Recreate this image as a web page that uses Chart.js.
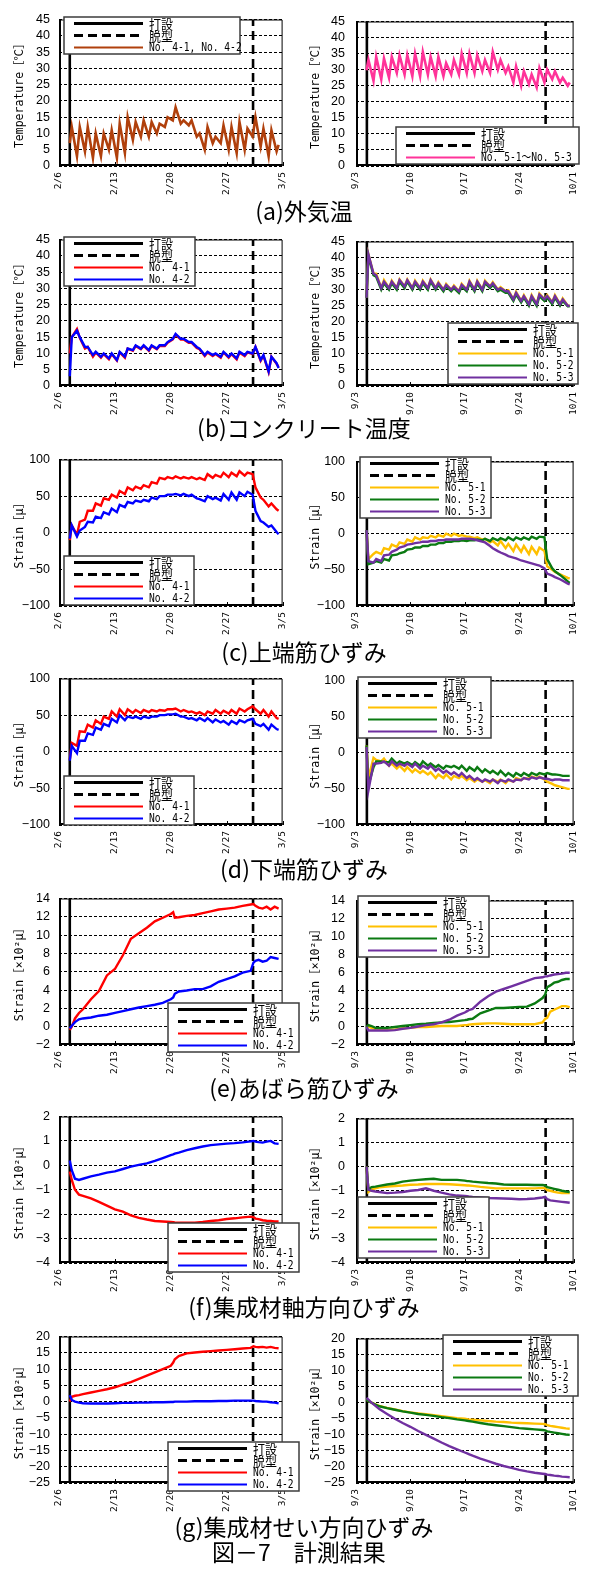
<!DOCTYPE html>
<html>
<head>
<meta charset="utf-8">
<script src="https://cdn.jsdelivr.net/npm/chart.js@4.4.1/dist/chart.umd.min.js"></script>
<style>
  body { margin: 0; background: #fff; width: 591px; height: 1569px; position: relative; overflow: hidden; }
  canvas { position: absolute; }
  .cap { position: absolute; left: 0; width: 608px; text-align: center; font: 23px "Noto Sans CJK JP", sans-serif; line-height: 23px; color: #000; white-space: nowrap; }
</style>
</head>
<body>
<script>
// ---- time grids (days after 2/6 or 9/3) ----
const tHalfDay = [1.35,1.6,2.25,2.6,3.25,3.6,4.25,4.6,5.25,5.6,6.25,6.6,7.25,7.6,8.25,8.6,9.25,9.6,10.25,10.6,
  11.25,11.6,12.25,12.6,13.25,13.6,14.25,14.6,15.25,15.6,16.25,16.6,17.25,17.6,18.25,18.6,19.25,19.6,20.25,20.6,
  21.25,21.6,22.25,22.6,23.25,23.6,24.25,24.6,25.25,25.6,26.25,26.6,27.25,27.5];
const tDaily = [1.35,1.6,2,2.5,3,4,5,6,7,8,9,10,11,12,13,14,14.3,14.5,15,16,17,18,19,20,21,22,23,24,24.35,24.6,25,25.5,26,26.5,27,27.5];

const ticksFeb = ['2/6', '2/13', '2/20', '2/27', '3/5'];
const ticksSep = ['9/3', '9/10', '9/17', '9/24', '10/1'];

const castFeb = 1.35, demoldFeb = 24.3;
const castSep = 1.4, demoldSep = 24.4;

// (a) outdoor temperature
const airFeb = [7,12, 3,12, 4.5,12, 2.5,10, 3,10, 5,11, 2.5,13, 4,15, 8,13.5, 9,14, 9,13.5, 10,13, 12,15, 14,18, 13,14,
  12.5,14, 9,10, 5,12, 7,9, 7,12.5, 5,12, 4,13.5, 5,11.5, 9,15, 6,11.5, 3,11, 4.5,6.5];
const airSep = [29.8,33, 26.5,34, 27,33.5, 27.5,34, 29,34.5, 28.5,34.5, 28,35, 28,35.5, 28.5,34, 28,34, 28,32, 28.5,33,
  28.5,35, 29,35, 29,34.5, 29.5,33, 29,35.5, 30,33, 29,31, 26,31, 25,29.5, 25.5,28.5, 24.5,30.5, 26,30, 27,29.5, 26,27.5, 25,26];

// (b) concrete temperature
const concFeb41 = [10,15, 17.5,14.8, 11.5,12, 9,10.3, 8.7,9.8, 8.2,9.8, 7.8,10.3, 8.7,11.5, 10.8,12.3, 11.3,12.3, 10.8,12.3,
  11.3,12.3, 12.3,13.3, 14.3,15.8, 14.3,14.3, 13.3,13.3, 11.7,11.3, 9.2,10.3, 9.2,9.8, 8.7,10.3, 8.7,9.8, 8.2,10.3, 9.2,10.3,
  9.8,12, 7.7,9.3, 4.3,9, 6.8,5.8];
const concFeb42 = [3,15, 17,15, 12,12, 9.5,10.5, 9,10, 8.5,10, 8,10.5, 9,11.5, 11,12.5, 11.5,12.5, 11,12.5, 11.5,12.5,
  12.5,13.5, 14.5,16, 14.5,14.5, 13.5,13.5, 12,11.5, 9.5,10.5, 9.5,10, 9,10.5, 9,10, 8.5,10.5, 9.5,10.5, 10,12, 8,9.5, 4.5,9, 7,5.5];
const concSep51 = [27.5,41, 35,35, 30.5,33, 30.5,32.8, 30.5,33.2, 31,33.2, 30.5,32.8, 30.5,32.8, 30.5,33.2, 30.5,32.3, 30,31.8,
  30,31.3, 29.5,31.8, 30,32.8, 30,32.8, 30,32.8, 31,32.3, 30,30.8, 29.5,29.8, 27,29.3, 26.5,28.3, 25.5,28.3, 25.5,28.8, 27,28.3,
  26,28.3, 25.5,27.3, 25,25];
const concSep52 = [27.5,40.5, 34.5,34, 30,32, 30,32, 30,32.5, 30.5,32.5, 30,32, 30,32, 30,32.5, 30,31.5, 29.5,31, 29.5,30.5,
  29,31, 29.5,32, 29.5,32, 29.5,32, 30.5,31.5, 29.5,30, 29,29, 26.5,28.5, 26,27.5, 25,27.5, 25,28, 26.5,27.5, 25.5,27.5,
  25,26.5, 24.8,24.8];
const concSep53 = [27.5,41, 35,34.5, 30.5,32.5, 30.5,32.5, 30.5,33, 31,33, 30.5,32.5, 30.5,32.5, 30.5,33, 30.5,32, 30,31.5,
  30,31, 29.5,31.5, 30,32.5, 30,32.5, 30,32.5, 31,32, 30,30.5, 29.5,29.5, 27,29, 26.5,28, 25.5,28, 25.5,28.5, 27,28, 26,28,
  25.5,27, 25,25];

// (c) top rebar strain
const topFeb41 = [-10,10, -3,15, 18,30, 30,40, 37,47, 45,52, 48,57, 53,62, 58,63, 60,65, 62,69, 67,75, 73,76, 74,77, 74,76,
  74,76, 73,75, 72,80, 75,79, 76,82, 76,82, 77,84, 78,82, 80,62, 48,45, 36,40, 32,30];
const topFeb42 = [-8,10, -5,3, 8,15, 14,22, 20,28, 25,33, 28,38, 35,42, 40,44, 42,45, 43,48, 46,50, 50,52, 52,53, 51,53,
  50,52, 47,46, 43,50, 46,48, 44,53, 45,55, 45,55, 50,56, 52,30, 16,14, 8,10, 1,-2];
const topSep51 = [5,-35, -28,-25, -28,-20, -22,-15, -18,-12, -14,-8, -11,-5, -8,-5, -6,-3, -5,-2, -4,0, -3,0, -3,-2, -4,-4,
  -6,-5, -8,-7, -12,-10, -16,-10, -20,-14, -24,-15, -25,-17, -28,-18, -28,-19, -24,-45, -50,-53, -56,-58, -61,-62];
const topSep52 = [5,-42, -40,-38, -40,-35, -37,-30, -29,-27, -25,-22, -21,-19, -19,-17, -17,-15, -15,-13, -13,-11, -11,-10,
  -10,-9, -10,-9, -9,-8, -9,-7, -10,-6, -9,-6, -9,-5, -9,-5, -8,-5, -8,-4, -7,-4, -5,-35, -48,-52, -57,-60, -66,-68];
const topSep53 = [5,-38, -40,-35, -38,-30, -29,-25, -22,-19, -17,-15, -14,-13, -12,-11, -11,-10, -10,-9, -9,-8, -8,-8, -8,-7,
  -7,-7, -8,-9, -11,-12, -17,-20, -24,-26, -29,-31, -33,-34, -37,-38, -40,-41, -43,-44, -48,-55, -58,-60, -63,-65, -69,-70];

// (d) bottom rebar strain
const botFeb41 = [-11,12, 8,28, 27,37, 33,43, 38,48, 45,55, 48,58, 50,58, 53,57, 53,57, 54,57, 55,57, 56,58, 58,59, 55,57,
  54,55, 52,54, 50,55, 52,57, 52,56, 52,57, 52,59, 55,58, 62,58, 52,57, 48,55, 46,45];
const botFeb42 = [-12,8, -2,15, 15,25, 23,33, 30,38, 35,45, 40,50, 43,48, 46,48, 45,48, 46,48, 48,50, 50,51, 51,52, 48,48,
  45,46, 43,46, 42,46, 40,44, 40,42, 37,42, 38,43, 40,43, 45,38, 35,38, 30,37, 31,30];
const botSep51 = [10,-35, -7,-10, -12,-8, -18,-15, -22,-18, -25,-20, -27,-23, -28,-25, -30,-27, -35,-30, -35,-30, -37,-32,
  -35,-32, -38,-35, -40,-37, -40,-38, -42,-37, -40,-37, -42,-38, -40,-35, -38,-35, -36,-33, -35,-33, -37,-40, -43,-45, -47,-48, -50,-50];
const botSep52 = [10,-45, -20,-12, -12,-13, -13,-8, -15,-12, -15,-13, -17,-13, -18,-12, -18,-15, -20,-17, -22,-18, -20,-18,
  -22,-18, -25,-20, -25,-20, -27,-23, -28,-25, -30,-25, -32,-28, -33,-28, -32,-28, -32,-28, -31,-28, -30,-28, -30,-30, -31,-32, -32,-32];
const botSep53 = [8,-52, -15,-15, -14,-12, -18,-12, -18,-15, -18,-15, -20,-15, -22,-18, -22,-18, -25,-22, -28,-25, -30,-27,
  -32,-28, -35,-32, -38,-35, -40,-37, -40,-37, -42,-38, -40,-37, -40,-37, -38,-35, -37,-34, -36,-34, -36,-36, -38,-37, -37,-38, -38,-38];

// (e) stirrup strain (x10^2 micro)
const stirFeb41 = [-0.35,0,0.9,1.5,1.9,3.0,3.9,5.6,6.3,7.8,9.6,10.2,10.8,11.5,11.9,12.3,12.5,11.9,11.95,12.1,12.2,12.4,12.6,12.8,
  12.9,13.0,13.2,13.35,13.4,13.2,13.0,12.9,13.1,12.8,13.1,12.9];
const stirFeb42 = [-0.2,0.1,0.5,0.8,0.9,1.0,1.2,1.3,1.5,1.7,1.9,2.1,2.25,2.4,2.6,3.0,3.2,3.6,3.85,3.95,4.1,4.1,4.4,4.9,
  5.2,5.5,5.9,6.1,7.0,7.2,7.3,7.1,7.2,7.6,7.5,7.4];
const stirSep51 = [0,0,-0.1,-0.2,-0.2,-0.3,-0.3,-0.15,-0.1,0,0,0.05,0.1,0.1,0.1,0.2,0.2,0.25,0.3,0.35,0.4,0.4,0.35,0.3,
  0.3,0.3,0.3,0.5,0.9,1.0,1.7,1.9,2.1,2.3,2.3,2.2];
const stirSep52 = [0,0.2,0.1,-0.1,-0.1,-0.1,0,0.1,0.2,0.3,0.35,0.45,0.5,0.55,0.65,0.75,0.8,0.85,0.9,1.5,1.8,2.1,2.1,2.15,
  2.2,2.25,2.6,3.2,3.6,4.4,4.6,4.9,5.0,5.2,5.3,5.3];
const stirSep53 = [0,-0.4,-0.4,-0.4,-0.4,-0.4,-0.35,-0.2,-0.1,0.05,0.2,0.3,0.5,0.8,1.25,1.6,1.75,1.85,2.0,2.8,3.4,3.9,4.2,4.5,
  4.8,5.1,5.4,5.5,5.6,5.6,5.7,5.8,5.85,5.9,6.0,6.0];

// (f) glulam axial strain
const axialFeb41 = [-0.25,-0.6,-1.0,-1.2,-1.25,-1.35,-1.5,-1.65,-1.8,-1.9,-2.05,-2.15,-2.22,-2.28,-2.3,-2.32,-2.33,-2.34,-2.35,
  -2.35,-2.35,-2.32,-2.28,-2.25,-2.2,-2.17,-2.13,-2.1,-2.12,-2.18,-2.2,-2.25,-2.27,-2.28,-2.3,-2.3];
const axialFeb42 = [0.2,-0.2,-0.55,-0.6,-0.55,-0.45,-0.38,-0.3,-0.25,-0.15,-0.05,0.02,0.08,0.18,0.3,0.42,0.45,0.48,0.52,0.62,
  0.7,0.77,0.83,0.86,0.89,0.91,0.94,0.98,1.0,0.97,0.95,0.93,0.97,1.0,0.9,0.88];
const axialSep51 = [0,-1.05,-0.95,-0.9,-0.86,-0.83,-0.8,-0.78,-0.75,-0.74,-0.72,-0.72,-0.72,-0.73,-0.75,-0.77,-0.78,-0.78,-0.8,
  -0.84,-0.87,-0.9,-0.9,-0.9,-0.9,-0.9,-0.9,-0.88,-0.9,-0.97,-1.0,-1.05,-1.08,-1.1,-1.1,-1.1];
const axialSep52 = [0,-0.95,-0.85,-0.83,-0.8,-0.74,-0.7,-0.62,-0.58,-0.55,-0.52,-0.5,-0.55,-0.55,-0.55,-0.58,-0.6,-0.6,-0.62,
  -0.65,-0.68,-0.7,-0.74,-0.75,-0.75,-0.75,-0.76,-0.76,-0.78,-0.85,-0.88,-0.92,-0.96,-1.0,-1.03,-1.05];
const axialSep53 = [0,-0.95,-1.0,-1.03,-1.05,-1.1,-1.08,-1.05,-1.0,-0.97,-0.9,-1.0,-1.08,-1.15,-1.2,-1.22,-1.23,-1.24,-1.26,
  -1.28,-1.3,-1.31,-1.32,-1.33,-1.35,-1.34,-1.32,-1.28,-1.25,-1.35,-1.4,-1.42,-1.44,-1.46,-1.48,-1.5];

// (g) glulam depth-direction strain
const depthFeb41 = [0,1.5,1.8,2,2.3,2.8,3.3,3.8,4.4,5.2,6,7,8,9,10,11,12,13,14,14.8,15.1,15.3,15.5,15.7,15.9,16.1,16.3,16.5,
  17,16.8,16.7,16.8,16.6,16.8,16.5,16.4];
const depthFeb42 = [2,0.5,0,-0.3,-0.5,-0.6,-0.6,-0.6,-0.5,-0.4,-0.4,-0.3,-0.3,-0.2,-0.2,-0.1,-0.1,0,0,0,0.1,0.1,0.1,0.2,0.2,
  0.3,0.3,0.3,0.3,0.2,0.1,0,0,-0.2,-0.3,-0.5];
const depthSep51 = [1,0.5,0,-0.5,-1,-1.6,-2.1,-2.6,-3,-3.3,-3.6,-3.9,-4.2,-4.5,-4.8,-5.0,-5.1,-5.2,-5.3,-5.5,-5.7,-5.9,-6.0,
  -6.2,-6.3,-6.4,-6.5,-6.6,-6.7,-7.0,-7.2,-7.4,-7.6,-7.8,-8,-8.1];
const depthSep52 = [1,0.5,0,-0.6,-1.1,-1.7,-2.2,-2.7,-3.1,-3.5,-3.8,-4.1,-4.5,-4.8,-5.2,-5.5,-5.6,-5.7,-5.9,-6.3,-6.7,-7.0,
  -7.3,-7.6,-7.9,-8.1,-8.3,-8.5,-8.6,-8.9,-9.1,-9.3,-9.5,-9.7,-9.9,-10];
const depthSep53 = [1.5,1,0,-1,-2,-3.5,-5,-6.3,-7.5,-8.8,-10,-11.2,-12.4,-13.5,-14.5,-15.5,-15.8,-16,-16.5,-17.4,-18.2,-19,
  -19.7,-20.3,-20.9,-21.4,-21.8,-22.1,-22.2,-22.4,-22.5,-22.7,-22.8,-23,-23.1,-23.2];

const captions = ['(a)外気温', '(b)コンクリート温度', '(c)上端筋ひずみ', '(d)下端筋ひずみ',
  '(e)あばら筋ひずみ', '(f)集成材軸方向ひずみ', '(g)集成材せい方向ひずみ'];
const figureTitle = '図－7　計測結果';

// ---- styling ----
const RED = '#ff0000', BLUE = '#0000ff', YEL = '#ffc000', GRN = '#0b7a12', PUR = '#7030a0';
const BROWN = '#b0400c', PINK = '#ff3399';
const TEMP = 'Temperature［℃］', STR = 'Strain［μ］', STR2 = 'Strain［×10²μ］';
const ROW_TOP = [13, 233, 453, 672, 892, 1110, 1330];
const CAP_Y = [211, 428, 652, 869, 1088, 1307, 1527];
const CANVAS_H = 204, PLOT_H = 153;

const feb = (a, b) => [
  { label: 'No. 4-1', color: RED, t: a.t, v: a.v },
  { label: 'No. 4-2', color: BLUE, t: b.t, v: b.v }];
const sep = (a, b, c) => [
  { label: 'No. 5-1', color: YEL, t: a.t, v: a.v },
  { label: 'No. 5-2', color: GRN, t: b.t, v: b.v },
  { label: 'No. 5-3', color: PUR, t: c.t, v: c.v }];
const H = v => ({ t: tHalfDay, v }), Dy = v => ({ t: tDaily, v });

const panels = [
  { row: 0, side: 'L', y: [0, 45, 5], title: TEMP, lw: 2.6, legend: [64, 17, 176],
    series: [{ label: 'No. 4-1, No. 4-2', color: BROWN, t: tHalfDay, v: airFeb }] },
  { row: 0, side: 'R', y: [0, 45, 5], title: TEMP, lw: 2.6, legend: [396, 127, 183],
    series: [{ label: 'No. 5-1～No. 5-3', color: PINK, t: tHalfDay, v: airSep }] },
  { row: 1, side: 'L', y: [0, 45, 5], title: TEMP, legend: [64, 237, 131], series: feb(H(concFeb41), H(concFeb42)) },
  { row: 1, side: 'R', y: [0, 45, 5], title: TEMP, legend: [448, 323, 130], series: sep(H(concSep51), H(concSep52), H(concSep53)) },
  { row: 2, side: 'L', y: [-100, 100, 50], title: STR, legend: [64, 556, 130], series: feb(H(topFeb41), H(topFeb42)) },
  { row: 2, side: 'R', y: [-100, 100, 50], title: STR, legend: [360, 457, 131], series: sep(H(topSep51), H(topSep52), H(topSep53)) },
  { row: 3, side: 'L', y: [-100, 100, 50], title: STR, legend: [64, 776, 130], series: feb(H(botFeb41), H(botFeb42)) },
  { row: 3, side: 'R', y: [-100, 100, 50], title: STR, legend: [358, 677, 133], series: sep(H(botSep51), H(botSep52), H(botSep53)) },
  { row: 4, side: 'L', y: [-2, 14, 2], title: STR2, legend: [168, 1003, 131], series: feb(Dy(stirFeb41), Dy(stirFeb42)) },
  { row: 4, side: 'R', y: [-2, 14, 2], title: STR2, legend: [358, 896, 131], series: sep(Dy(stirSep51), Dy(stirSep52), Dy(stirSep53)) },
  { row: 5, side: 'L', y: [-4, 2, 1], title: STR2, legend: [168, 1223, 131], series: feb(Dy(axialFeb41), Dy(axialFeb42)) },
  { row: 5, side: 'R', y: [-4, 2, 1], title: STR2, legend: [358, 1197, 131], series: sep(Dy(axialSep51), Dy(axialSep52), Dy(axialSep53)) },
  { row: 6, side: 'L', y: [-25, 20, 5], title: STR2, legend: [168, 1442, 131], series: feb(Dy(depthFeb41), Dy(depthFeb42)) },
  { row: 6, side: 'R', y: [-25, 20, 5], title: STR2, legend: [443, 1335, 135], series: sep(Dy(depthSep51), Dy(depthSep52), Dy(depthSep53)) },
];

// frame, inward x ticks and the boxed legend inside the plot
const panelDecor = {
  id: 'panelDecor',
  afterDatasetsDraw(chart, args, opts) {
    const { ctx, chartArea: a } = chart;
    ctx.save();
    ctx.strokeStyle = '#000';
    ctx.lineWidth = 1;
    ctx.beginPath();
    ctx.moveTo(a.left, a.top + 0.5);
    ctx.lineTo(a.right - 0.5, a.top + 0.5);
    ctx.lineTo(a.right - 0.5, a.bottom);
    ctx.stroke();
    ctx.lineWidth = 2;
    ctx.beginPath();
    ctx.moveTo(a.left + 1, a.top);
    ctx.lineTo(a.left + 1, a.bottom - 1);
    ctx.lineTo(a.right, a.bottom - 1);
    ctx.stroke();
    ctx.lineWidth = 1;
    const xs = chart.scales.x;
    xs.ticks.forEach(t => {
      const px = Math.round(xs.getPixelForValue(t.value)) + 0.5;
      ctx.beginPath();
      ctx.moveTo(px, a.bottom);
      ctx.lineTo(px, a.bottom - 4);
      ctx.stroke();
    });

    if (!opts.box) { ctx.restore(); return; }
    const items = chart.data.datasets.filter(d => d.legendText)
      .sort((p, q) => p.legendRank - q.legendRank);
    const [bx, by, bw] = opts.box;
    const bh = items.length * 12 + 1;
    ctx.fillStyle = '#fff';
    ctx.fillRect(bx, by, bw, bh);
    ctx.strokeStyle = '#3c3c3c';
    ctx.lineWidth = 1.5;
    ctx.strokeRect(bx, by, bw, bh);
    items.forEach((d, i) => {
      const cy = by + 6.5 + 12 * i;
      ctx.beginPath();
      ctx.setLineDash(d.borderDash || []);
      ctx.strokeStyle = d.borderColor;
      ctx.lineWidth = d.legendRank < 2 ? 3 : 2.2;
      ctx.moveTo(bx + 10, cy);
      ctx.lineTo(bx + 79, cy);
      ctx.stroke();
      ctx.setLineDash([]);
      ctx.fillStyle = '#000';
      ctx.textBaseline = 'middle';
      ctx.save();
      ctx.translate(bx + 85, cy + 0.5);
      if (d.legendText.startsWith('No')) {
        ctx.font = '13px "DejaVu Sans Mono", "Noto Sans CJK JP"';
        ctx.scale(0.74, 1);
      } else {
        ctx.font = '13px "Noto Sans CJK JP"';
        ctx.scale(0.92, 1);
      }
      ctx.fillText(d.legendText, 0, 0);
      ctx.restore();
    });
    ctx.restore();
  }
};

function buildPanel(p) {
  const isL = p.side === 'L';
  const cLeft = isL ? 0 : 300, cW = isL ? 300 : 291;
  const cTop = ROW_TOP[p.row] - 10;
  const cv = document.createElement('canvas');
  cv.width = cW;
  cv.height = CANVAS_H;
  cv.style.left = cLeft + 'px';
  cv.style.top = cTop + 'px';
  document.body.appendChild(cv);

  const [yMin, yMax, yStep] = p.y;
  const cast = isL ? castFeb : castSep;
  const demold = isL ? demoldFeb : demoldSep;
  const labels = isL ? ticksFeb : ticksSep;
  const n = p.series.length;

  const datasets = p.series.map((s, i) => ({
    data: s.t.map((x, j) => ({ x, y: s.v[j] })),
    borderColor: s.color,
    borderWidth: p.lw || 2.4,
    pointRadius: 0,
    tension: 0,
    order: n - i,
    legendText: s.label,
    legendRank: 2 + i,
  }));
  datasets.push({
    data: [{ x: cast, y: yMin }, { x: cast, y: yMax }],
    borderColor: '#000', borderWidth: 2.6, pointRadius: 0, order: 50,
    legendText: '打設', legendRank: 0,
  });
  datasets.push({
    data: [{ x: demold, y: yMin }, { x: demold, y: yMax }],
    borderColor: '#000', borderWidth: 2.6, borderDash: [9, 5], pointRadius: 0, order: 51,
    legendText: '脱型', legendRank: 1,
  });

  new Chart(cv, {
    type: 'line',
    data: { datasets },
    options: {
      animation: false,
      responsive: false,
      devicePixelRatio: 1,
      events: [],
      layout: { padding: { left: 0, top: 10, right: isL ? 13 : 9, bottom: 0 } },
      plugins: {
        legend: { display: false },
        tooltip: { enabled: false },
        panelDecor: { box: [p.legend[0] - cLeft, p.legend[1] - cTop, p.legend[2]] },
      },
      scales: {
        x: {
          type: 'linear', min: 0, max: 28,
          afterFit: s => { s.height = CANVAS_H - 10 - PLOT_H; },
          grid: { display: false, drawTicks: false },
          border: { display: false },
          ticks: {
            stepSize: 7, autoSkip: false, maxRotation: 90, minRotation: 90, padding: 6,
            color: '#000', font: { family: '"DejaVu Sans Mono"', size: 9.5 },
            callback: v => labels[Math.round(v / 7)],
          },
        },
        y: {
          type: 'linear', min: yMin, max: yMax,
          afterFit: s => { s.width = isL ? 59 : 56; },
          grid: { color: '#000', lineWidth: 1, drawTicks: false },
          border: { display: false, dash: [3, 2] },
          ticks: {
            stepSize: yStep, autoSkip: false, padding: isL ? 9 : 11,
            color: '#000', font: { family: '"Liberation Sans"', size: 12.5 },
            callback: v => (v < 0 ? '−' + (-v) : String(v)),
          },
          title: {
            display: true, text: p.title, color: '#000',
            font: { family: '"DejaVu Sans Mono", "Noto Sans CJK JP"', size: 11.5 },
            padding: { top: isL ? 13 : 9, bottom: 0 },
          },
        },
      },
    },
    plugins: [panelDecor],
  });
}

panels.forEach(buildPanel);

captions.forEach((text, i) => {
  const el = document.createElement('div');
  el.className = 'cap';
  el.style.top = (CAP_Y[i] - 12) + 'px';
  el.textContent = text;
  document.body.appendChild(el);
});
const fig = document.createElement('div');
fig.className = 'cap';
fig.style.top = (1552 - 12) + 'px';
fig.style.width = '598px';
fig.textContent = figureTitle;
document.body.appendChild(fig);
</script>
</body>
</html>
